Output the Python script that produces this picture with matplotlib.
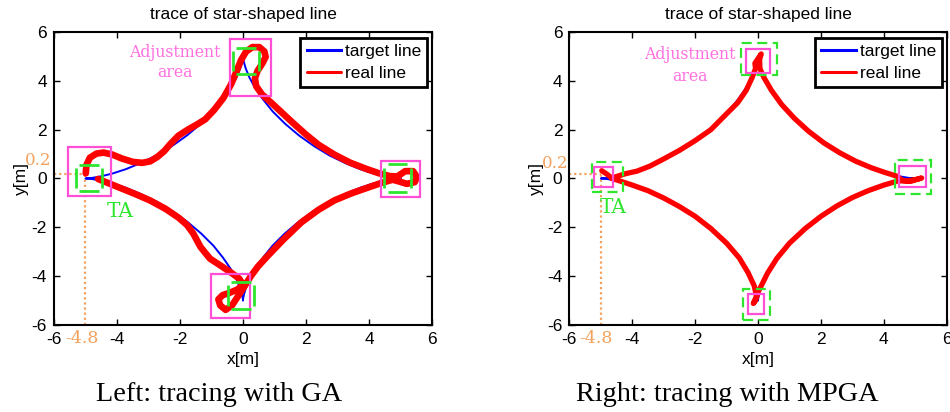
import numpy as np
import matplotlib
matplotlib.use("Agg")
import matplotlib.pyplot as plt
from matplotlib.patches import Rectangle

plt.rcParams['axes.unicode_minus'] = False

# ---------------- data ----------------
# target (star-shaped) line, first-quadrant arc; other quadrants are mirror images
target_q1_x = [5.0, 4.94, 4.78, 4.51, 4.15, 3.72, 3.25, 2.75, 2.25, 1.77, 1.33, 0.94, 0.63, 0.38, 0.20, 0.087, 0.026, 0.003, 0.0]
target_q1_y = [0.0, 0.003, 0.026, 0.087, 0.20, 0.38, 0.63, 0.94, 1.33, 1.77, 2.25, 2.75, 3.25, 3.72, 4.15, 4.51, 4.78, 4.94, 5.0]

# real line, GA (left)
ga_real_x = [-4.99, -4.97, -4.86, -4.65, -4.42, -4.15, -3.85, -3.5, -3.2, -2.95, -2.72, -2.5, -2.3, -2.05,
             -1.75, -1.45, -1.2, -0.92, -0.62, -0.38, -0.2, -0.06, 0.1, 0.3, 0.52, 0.68, 0.72, 0.62, 0.46,
             0.38, 0.42, 0.6, 0.9, 1.25, 1.6, 2.0, 2.4, 2.9, 3.4, 3.9, 4.3, 4.65, 4.9, 5.15, 5.4, 5.53, 5.45,
             5.2, 4.95, 4.75, 4.4, 3.95, 3.42, 2.9, 2.4, 1.85, 1.3, 0.8, 0.48, 0.25, 0.08, -0.12, -0.35,
             -0.55, -0.72, -0.78, -0.65, -0.42, -0.18, 0.0, -0.12, -0.35, -0.65, -1.05, -1.35, -1.58, -1.78,
             -2.05, -2.45, -2.95, -3.45, -3.95, -4.35, -4.6]
ga_real_y = [0.21, 0.55, 0.85, 1.02, 1.06, 0.98, 0.82, 0.68, 0.64, 0.7, 0.88, 1.12, 1.42, 1.75,
             2.0, 2.22, 2.42, 2.8, 3.3, 3.85, 4.4, 4.85, 5.2, 5.38, 5.38, 5.2, 4.98, 4.72, 4.4,
             4.1, 3.78, 3.45, 3.1, 2.68, 2.26, 1.8, 1.38, 0.98, 0.65, 0.4, 0.22, 0.1, 0.08, 0.3, 0.3, 0.05, -0.15,
             -0.22, -0.12, -0.05, -0.18, -0.38, -0.62, -0.9, -1.28, -1.8, -2.48, -3.15, -3.6, -4.0, -4.35, -4.75, -5.2,
             -5.38, -5.2, -4.95, -4.78, -4.68, -4.55, -4.35, -4.1, -3.88, -3.62, -3.28, -2.8, -2.25, -1.9,
             -1.6, -1.25, -0.9, -0.62, -0.36, -0.15, -0.02]

# real line, MPGA (right)
mpga_real_x = [-4.97, -4.81, -4.65, -4.45, -4.2, -3.85, -3.45, -3.0, -2.5, -2.0, -1.5, -1.0, -0.65, -0.38,
               -0.2, -0.08, -0.1, 0.02, 0.1, 0.05, 0.06, 0.18, 0.42, 0.75, 1.15, 1.6, 2.1, 2.6, 3.1, 3.6,
               4.0, 4.4, 4.6, 4.85, 5.05, 5.2, 5.05, 4.75, 4.45, 4.0, 3.5, 3.0, 2.5, 2.0, 1.5, 1.0, 0.6,
               0.3, 0.12, 0.02, -0.08, -0.15, -0.05, -0.12, -0.32, -0.6, -1.0, -1.5, -2.0, -2.5, -3.0,
               -3.5, -4.0, -4.4, -4.65]
mpga_real_y = [0.32, 0.18, 0.02, 0.1, 0.2, 0.3, 0.5, 0.8, 1.15, 1.55, 2.0, 2.65, 3.1, 3.6,
               4.1, 4.5, 4.72, 4.95, 5.1, 4.88, 4.5, 4.15, 3.62, 3.03, 2.47, 1.94, 1.45, 1.05, 0.71, 0.44,
               0.26, 0.1, -0.08, -0.12, -0.04, 0.02, -0.03, -0.1, -0.1, -0.27, -0.5, -0.78, -1.13, -1.55, -2.05, -2.65, -3.27,
               -3.88, -4.35, -4.6, -5.0, -5.12, -4.82, -4.4, -3.85, -3.25, -2.65, -2.05, -1.55, -1.15, -0.8,
               -0.5, -0.27, -0.1, 0.0]

# annotation areas (x0, y0, width, height) in data units
ga_adjust_boxes = [(-5.55, -0.72, 1.35, 1.99), (-0.42, 3.39, 1.32, 2.32),
                   (4.37, -0.75, 1.25, 1.48), (-1.03, -5.73, 1.25, 1.82)]
ga_ta_boxes = [(-5.3, -0.52, 0.82, 1.07), (-0.31, 4.27, 0.83, 1.06),
               (4.49, -0.54, 0.83, 1.12), (-0.47, -5.36, 0.82, 1.13)]
mpga_adjust_boxes = [(-5.21, -0.35, 0.61, 0.82), (-0.37, 4.32, 0.76, 1.0),
                     (4.48, -0.34, 0.85, 0.84), (-0.33, -5.53, 0.53, 0.81)]
mpga_ta_boxes = [(-5.29, -0.55, 0.99, 1.23), (-0.54, 4.23, 1.14, 1.32),
                 (4.34, -0.62, 1.15, 1.39), (-0.48, -5.78, 0.87, 1.27)]

start_x, start_y = -5.0, 0.2
start_x_label, start_y_label = "-4.8", "0.2"
ticks = [-6, -4, -2, 0, 2, 4, 6]
title_text = "trace of star-shaped line"
captions = ["Left: tracing with GA", "Right: tracing with MPGA"]

# ---------------- style ----------------
SANS = "Liberation Sans"
ANNO = "DejaVu Serif"
SERIF = "Liberation Serif"
MAGENTA = "#ff4fd6"
MAG_TEXT = "#ff6fe0"
GREEN = "#2ee62e"
ORANGE = "#f3a15c"

q1x = np.array(target_q1_x)
q1y = np.array(target_q1_y)
target_x = np.concatenate([q1x, -q1x[::-1], -q1x, q1x[::-1]])
target_y = np.concatenate([q1y, q1y[::-1], -q1y, -q1y[::-1]])

fig = plt.figure(figsize=(9.5, 4.12), dpi=100)
fig.patch.set_facecolor("white")

ax_l = fig.add_axes([0.0568, 0.2112, 0.3979, 0.7112])
ax_r = fig.add_axes([0.5993, 0.2112, 0.3973, 0.7112])


def side_segments(ax, box, frac=0.12):
    x0, y0, w, h = box
    kw = dict(color=GREEN, lw=2.0, solid_capstyle="butt", zorder=6)
    ax.plot([x0 + frac * w, x0 + (1 - frac) * w], [y0, y0], **kw)
    ax.plot([x0 + frac * w, x0 + (1 - frac) * w], [y0 + h, y0 + h], **kw)
    ax.plot([x0, x0], [y0 + frac * h, y0 + (1 - frac) * h], **kw)
    ax.plot([x0 + w, x0 + w], [y0 + frac * h, y0 + (1 - frac) * h], **kw)


def setup(ax, real_x, real_y, red_lw, adjust_boxes, ta_boxes, dashed_full,
          adj_xy, adj_ls, ta_xy, lab02_xy, lab48_xy):
    ax.plot(target_x, target_y, color="#0000ff", lw=1.4, zorder=3, label="target line")
    ax.plot(real_x, real_y, color="#ff0000", lw=red_lw, zorder=4, label="real line",
            solid_joinstyle="round", solid_capstyle="round")
    for b in adjust_boxes:
        ax.add_patch(Rectangle((b[0], b[1]), b[2], b[3], fill=False, ec=MAGENTA, lw=1.6, zorder=5))
    for b in ta_boxes:
        if dashed_full:
            ax.add_patch(Rectangle((b[0], b[1]), b[2], b[3], fill=False, ec=GREEN, lw=1.6,
                                   linestyle=(0, (4.5, 2.5)), zorder=6))
        else:
            side_segments(ax, b)
    # start point guides
    ax.plot([-6, start_x], [start_y, start_y], color=ORANGE, lw=1.6, ls=(0, (1, 1.3)), zorder=2)
    ax.plot([start_x, start_x], [-6, start_y], color=ORANGE, lw=1.6, ls=(0, (1, 1.3)), zorder=2)
    ax.text(lab02_xy[0], lab02_xy[1], start_y_label, color=ORANGE, family=ANNO, fontsize=12,
            ha="center", va="center", clip_on=False)
    ax.text(lab48_xy[0], lab48_xy[1], start_x_label, color=ORANGE, family=ANNO, fontsize=12.5,
            ha="center", va="center", clip_on=False)
    ax.text(adj_xy[0], adj_xy[1], "Adjustment\narea", color=MAG_TEXT, family=ANNO, fontsize=11.3,
            ha="center", va="center", linespacing=adj_ls, zorder=7)
    ax.text(ta_xy[0], ta_xy[1], "TA", color=GREEN, family=ANNO, fontsize=14.5,
            ha="center", va="center", zorder=7)

    ax.set_xlim(-6, 6)
    ax.set_ylim(-6, 6)
    ax.set_xticks(ticks)
    ax.set_yticks(ticks)
    ax.set_xticklabels([str(t) for t in ticks], family=SANS, fontsize=12.5)
    ax.set_yticklabels([str(t) for t in ticks], family=SANS, fontsize=12.5)
    ax.tick_params(direction="in", top=True, right=True, length=4, width=1, pad=5)
    for s in ax.spines.values():
        s.set_linewidth(1.5)
    ax.set_xlabel("x[m]", family=SANS, fontsize=12.5, labelpad=4)
    ax.set_ylabel("y[m]", family=SANS, fontsize=12.5, labelpad=2)
    ax.set_title(title_text, family=SANS, fontsize=12.5, pad=9)
    leg = ax.legend(loc="upper right", bbox_to_anchor=(0.987, 0.979), borderaxespad=0,
                    prop={"family": SANS, "size": 12.5}, handlelength=2.0, handletextpad=0.2,
                    labelspacing=0.35, borderpad=0.35, fancybox=False, framealpha=1,
                    edgecolor="black")
    leg.get_frame().set_linewidth(2.0)
    for ln in leg.get_lines():
        ln.set_linewidth(2.2)
    leg.set_zorder(10)


setup(ax_l, ga_real_x, ga_real_y, 4.8, ga_adjust_boxes, ga_ta_boxes, False,
      adj_xy=(-2.16, 4.76), adj_ls=1.25, ta_xy=(-3.9, -1.36), lab02_xy=(-6.5, 0.72),
      lab48_xy=(-5.12, -6.55))
setup(ax_r, mpga_real_x, mpga_real_y, 3.8, mpga_adjust_boxes, mpga_ta_boxes, True,
      adj_xy=(-2.17, 4.62), adj_ls=1.4, ta_xy=(-4.6, -1.2), lab02_xy=(-6.45, 0.61),
      lab48_xy=(-5.16, -6.55))

fig.text(0.2305, 0.027, captions[0], family=SERIF, fontsize=20.3, ha="center", va="baseline")
fig.text(0.765, 0.027, captions[1], family=SERIF, fontsize=20.3, ha="center", va="baseline")

fig.savefig("out.png", dpi=100, facecolor="white")
